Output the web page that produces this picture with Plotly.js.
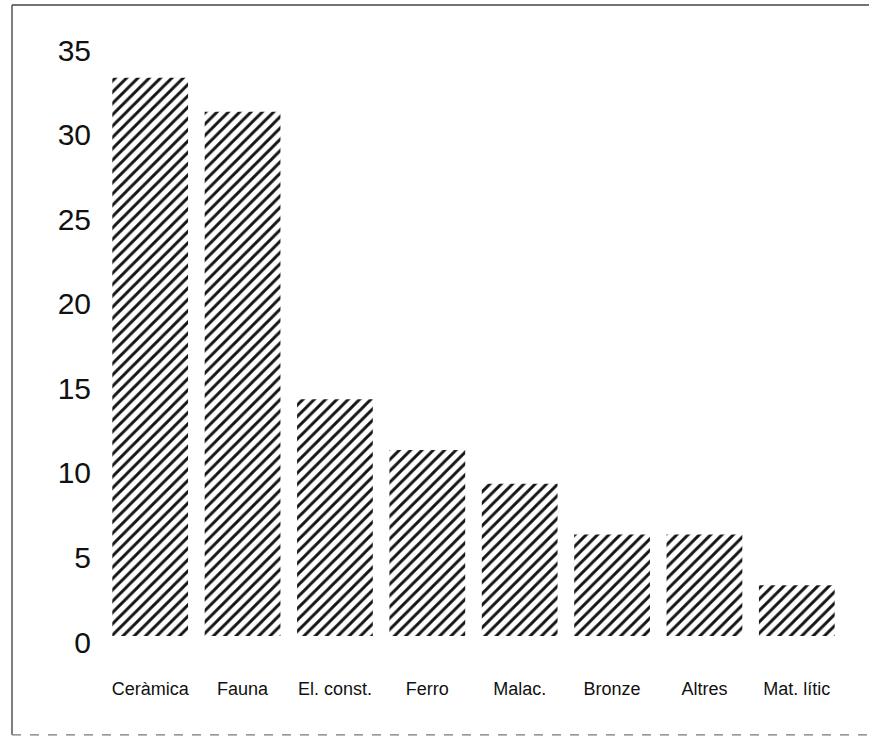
<!DOCTYPE html>
<html>
<head>
<meta charset="utf-8">
<script src="https://cdn.plot.ly/plotly-3.0.1.min.js"></script>
<style>
  html, body { margin: 0; padding: 0; background: #fff; }
  #chart { width: 869px; height: 738px; }
</style>
</head>
<body>
<div id="chart"></div>
<script>
// Categories and values
const categories = ["Ceràmica", "Fauna", "El. const.", "Ferro", "Malac.", "Bronze", "Altres", "Mat. lític"];
const counts = [33, 31, 14, 11, 9, 6, 6, 3];
const yTicks = [0, 5, 10, 15, 20, 25, 30, 35];

const trace = {
  type: "bar",
  x: categories,
  y: counts,
  marker: {
    color: "#141414",
    line: { width: 0 },
    pattern: {
      shape: "/",
      fillmode: "replace",
      fgcolor: "#141414",
      bgcolor: "#ffffff",
      size: 8,
      solidity: 0.36
    }
  },
  hoverinfo: "x+y"
};

const layout = {
  width: 869,
  height: 738,
  paper_bgcolor: "#ffffff",
  plot_bgcolor: "#ffffff",
  margin: { l: 104, r: 26, t: 44, b: 102 },
  bargap: 0.18,
  showlegend: false,
  font: { family: "Liberation Sans, Arial, sans-serif", color: "#111" },
  xaxis: {
    type: "category",
    showgrid: false,
    zeroline: false,
    showline: false,
    ticks: "",
    ticklabelstandoff: 40,
    tickfont: { family: "Liberation Sans Narrow, Arial Narrow, Liberation Sans, sans-serif", size: 18, color: "#111" }
  },
  yaxis: {
    range: [0, 35],
    tickvals: yTicks,
    ticktext: yTicks.map(String),
    showgrid: false,
    zeroline: false,
    showline: false,
    ticks: "",
    ticklabelstandoff: 12,
    ticklabelshift: 6,
    tickfont: { family: "Liberation Sans, Arial, sans-serif", size: 30, color: "#111" }
  },
  shapes: [
    { type: "line", xref: "paper", yref: "paper", x0: -0.1245, x1: -0.1245, y0: 1.066, y1: -0.167,
      line: { color: "#555", width: 1.5 } },
    { type: "line", xref: "paper", yref: "paper", x0: -0.1245, x1: 1.04, y0: 1.066, y1: 1.066,
      line: { color: "#444", width: 1.5 } },
    { type: "line", xref: "paper", yref: "paper", x0: -0.1245, x1: 1.04, y0: -0.167, y1: -0.167,
      line: { color: "#777", width: 1.2, dash: "dash" } }
  ]
};

Plotly.newPlot("chart", [trace], layout, { displayModeBar: false, staticPlot: true });
</script>
</body>
</html>
